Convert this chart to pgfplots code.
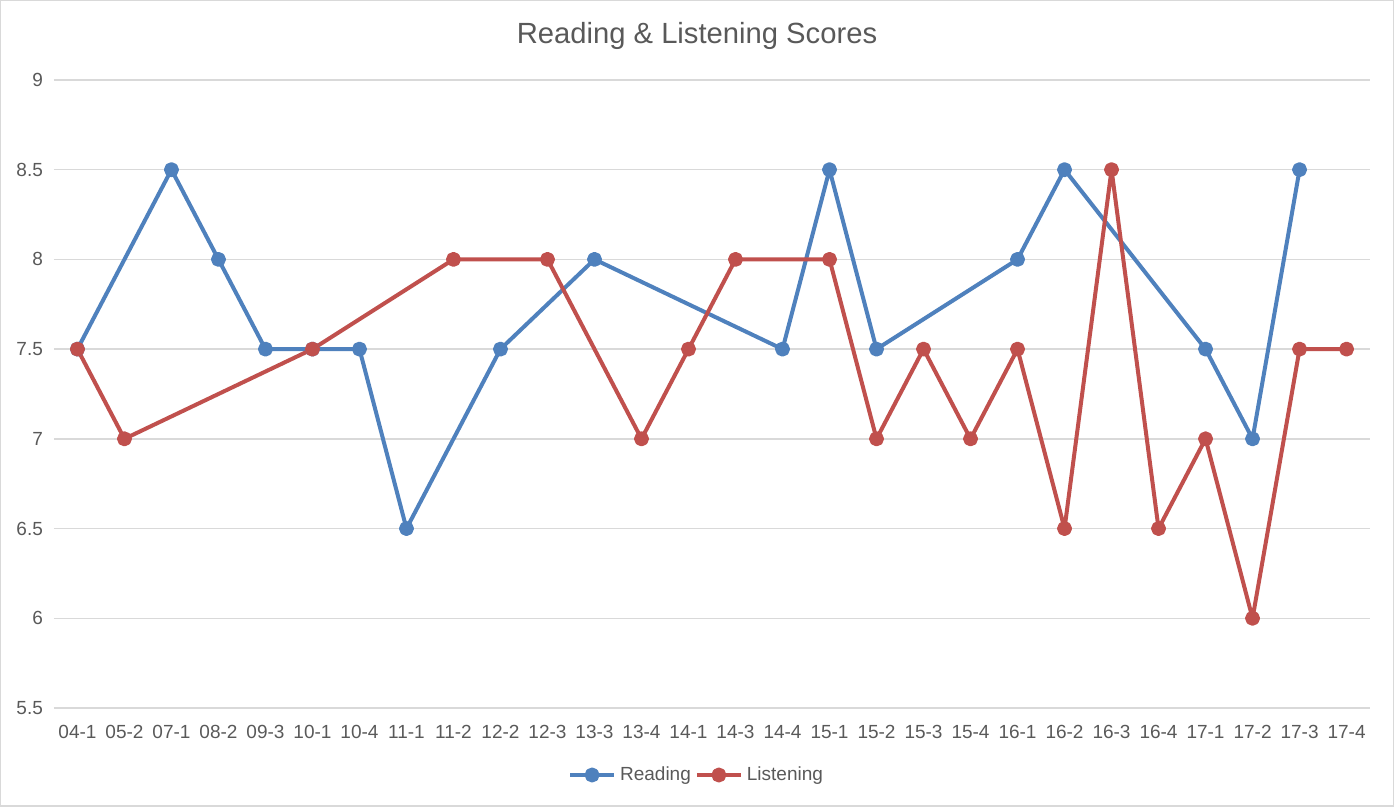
\documentclass[border=0pt]{standalone}
\usepackage{fontspec}
\setmainfont{Liberation Sans}
\usepackage{pgfplots}
\pgfplotsset{compat=1.18}
\definecolor{rblue}{HTML}{4F81BD}
\definecolor{lred}{HTML}{C0504D}
\definecolor{txtgray}{HTML}{595959}
\definecolor{gridgray}{HTML}{D9D9D9}
\begin{document}
\begin{tikzpicture}
\begin{axis}[name=ax, scale only axis, width=658pt, height=314pt,
  xmin=-0.5, xmax=27.5, ymin=5.5, ymax=9,
  ytick={5.5,6,6.5,7,7.5,8,8.5,9},
  xtick={0,...,27},
  xticklabels={04-1,05-2,07-1,08-2,09-3,10-1,10-4,11-1,11-2,12-2,12-3,13-3,13-4,14-1,14-3,14-4,15-1,15-2,15-3,15-4,16-1,16-2,16-3,16-4,17-1,17-2,17-3,17-4},
  axis line style={draw=none}, tick style={draw=none},
  ymajorgrids, major grid style={gridgray, line width=0.75pt},
  /pgf/number format/assume math mode=true,
  ticklabel style={font=\fontsize{9.5}{11}\selectfont, text=txtgray},
  xticklabel style={yshift=-5pt},
  yticklabel style={xshift=-2pt},
  legend columns=2,
  legend style={at={(0.489,0)}, anchor=center, yshift=-33.5pt, draw=none, fill=none,
    font=\fontsize{9.5}{11}\selectfont, text=txtgray,
    /tikz/every even column/.append style={column sep=0pt}},
  legend image code/.code={\draw[#1, mark repeat=2, mark phase=2] plot coordinates {(0pt,0pt) (11pt,0pt) (22pt,0pt)};},
  every axis plot/.append style={line width=2pt, line join=round, mark=*, mark size=2.75pt},
]
\addplot[rblue, mark options={fill=rblue, draw=rblue}] coordinates {
(0,7.5) (2,8.5) (3,8) (4,7.5) (5,7.5) (6,7.5) (7,6.5) (9,7.5) (11,8) (15,7.5) (16,8.5) (17,7.5) (20,8) (21,8.5) (24,7.5) (25,7) (26,8.5)};
\addlegendentry{Reading}
\addplot[lred, mark options={fill=lred, draw=lred}] coordinates {
(0,7.5) (1,7) (5,7.5) (8,8) (10,8) (12,7) (13,7.5) (14,8) (16,8) (17,7) (18,7.5) (19,7) (20,7.5) (21,6.5) (22,8.5) (23,6.5) (24,7) (25,6) (26,7.5) (27,7.5)};
\addlegendentry{Listening}
\end{axis}
\node[text=txtgray, font=\fontsize{14.6}{17}\selectfont] at ([xshift=-7.5pt,yshift=22pt]ax.north) {Reading \& Listening Scores};
\draw[gridgray, line width=0.75pt] ([xshift=-26.6pt,yshift=-49.1pt]ax.south west) rectangle ([xshift=11.6pt,yshift=39.6pt]ax.north east);
\end{tikzpicture}
\end{document}
